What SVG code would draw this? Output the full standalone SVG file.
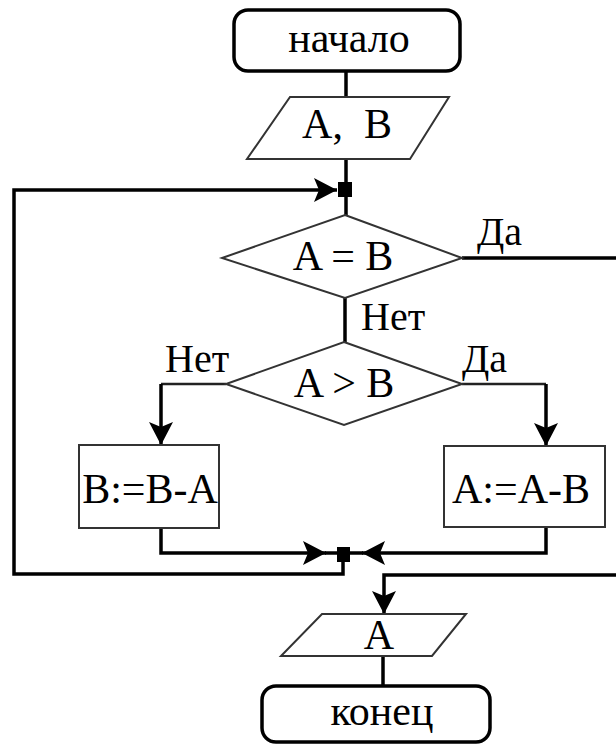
<svg xmlns="http://www.w3.org/2000/svg" width="616" height="745" viewBox="0 0 616 745">
<defs>
  <marker id="arr" markerUnits="userSpaceOnUse" markerWidth="26" markerHeight="26" viewBox="0 0 26 26" refX="23" refY="13" orient="auto">
    <path d="M0,1 L23,13 L0,25 L5,13 Z" fill="#000"/>
  </marker>
</defs>
<rect width="616" height="745" fill="#fff"/>

<g id="connectors" fill="none" stroke="#000" stroke-width="3.5">
  <path d="M346,71 V97"/>
  <path d="M346,159 V215"/>
  <path d="M343,556 V574 H14 V190 H337" marker-end="url(#arr)"/>
  <path d="M462,258 H630 V575 H384 V614" marker-end="url(#arr)"/>
  <path d="M345,298 V342"/>
  <path d="M226,384 H161" stroke="#222" stroke-width="2.5"/>
  <path d="M161,384 V445" marker-end="url(#arr)"/>
  <path d="M462,384 H546" stroke="#222" stroke-width="2.5"/>
  <path d="M546,384 V446" marker-end="url(#arr)"/>
  <path d="M161,528 V553 H326" marker-end="url(#arr)"/>
  <path d="M546,528 V553 H362" marker-end="url(#arr)"/>
  <path d="M325,553 H363"/>
  <path d="M383,656 V686"/>
  <rect x="338" y="182" width="14" height="15" fill="#000" stroke="none"/>
  <rect x="337" y="547" width="13" height="15" fill="#000" stroke="none"/>
</g>

<g id="start">
  <rect x="234" y="10" width="226" height="61" rx="14" fill="#fff" stroke="#000" stroke-width="3.5"/>
  <text x="349" y="52" text-anchor="middle" font-family="Liberation Serif" font-size="42">начало</text>
</g>

<g id="input">
  <polygon points="290,97 449,97 410,159 247,159" fill="#fff" stroke="#333" stroke-width="2"/>
  <text x="347" y="138" text-anchor="middle" font-family="Liberation Serif" font-size="42">A,&#160; B</text>
</g>

<g id="cond1">
  <polygon points="345,215 462,258 345,298 222,258" fill="#fff" stroke="#333" stroke-width="2"/>
  <text x="343" y="270" text-anchor="middle" font-family="Liberation Serif" font-size="42">A = B</text>
</g>

<g id="cond2">
  <polygon points="344,342 462,384 344,425 226,384" fill="#fff" stroke="#333" stroke-width="2"/>
  <text x="344" y="397" text-anchor="middle" font-family="Liberation Serif" font-size="42">A &gt; B</text>
</g>

<g id="boxB">
  <rect x="79" y="445" width="140" height="83" fill="#fff" stroke="#333" stroke-width="2"/>
  <text x="150" y="503" text-anchor="middle" font-family="Liberation Serif" font-size="42">B:=B-A</text>
</g>

<g id="boxA">
  <rect x="444" y="446" width="161" height="81" fill="#fff" stroke="#333" stroke-width="2"/>
  <text x="521" y="503" text-anchor="middle" font-family="Liberation Serif" font-size="42">A:=A-B</text>
</g>

<g id="output">
  <polygon points="322,614 466,614 432,656 281,656" fill="#fff" stroke="#333" stroke-width="2"/>
  <text x="379" y="649" text-anchor="middle" font-family="Liberation Serif" font-size="42">A</text>
</g>

<g id="end">
  <rect x="262" y="686" width="228" height="56" rx="14" fill="#fff" stroke="#000" stroke-width="3.5"/>
  <text x="382" y="725" text-anchor="middle" font-family="Liberation Serif" font-size="42">конец</text>
</g>

<g id="labels">
  <text x="477" y="245" font-family="Liberation Serif" font-size="40">Да</text>
  <text x="361" y="330" font-family="Liberation Serif" font-size="40">Нет</text>
  <text x="165" y="372" font-family="Liberation Serif" font-size="40">Нет</text>
  <text x="462" y="372" font-family="Liberation Serif" font-size="40">Да</text>
</g>
</svg>
